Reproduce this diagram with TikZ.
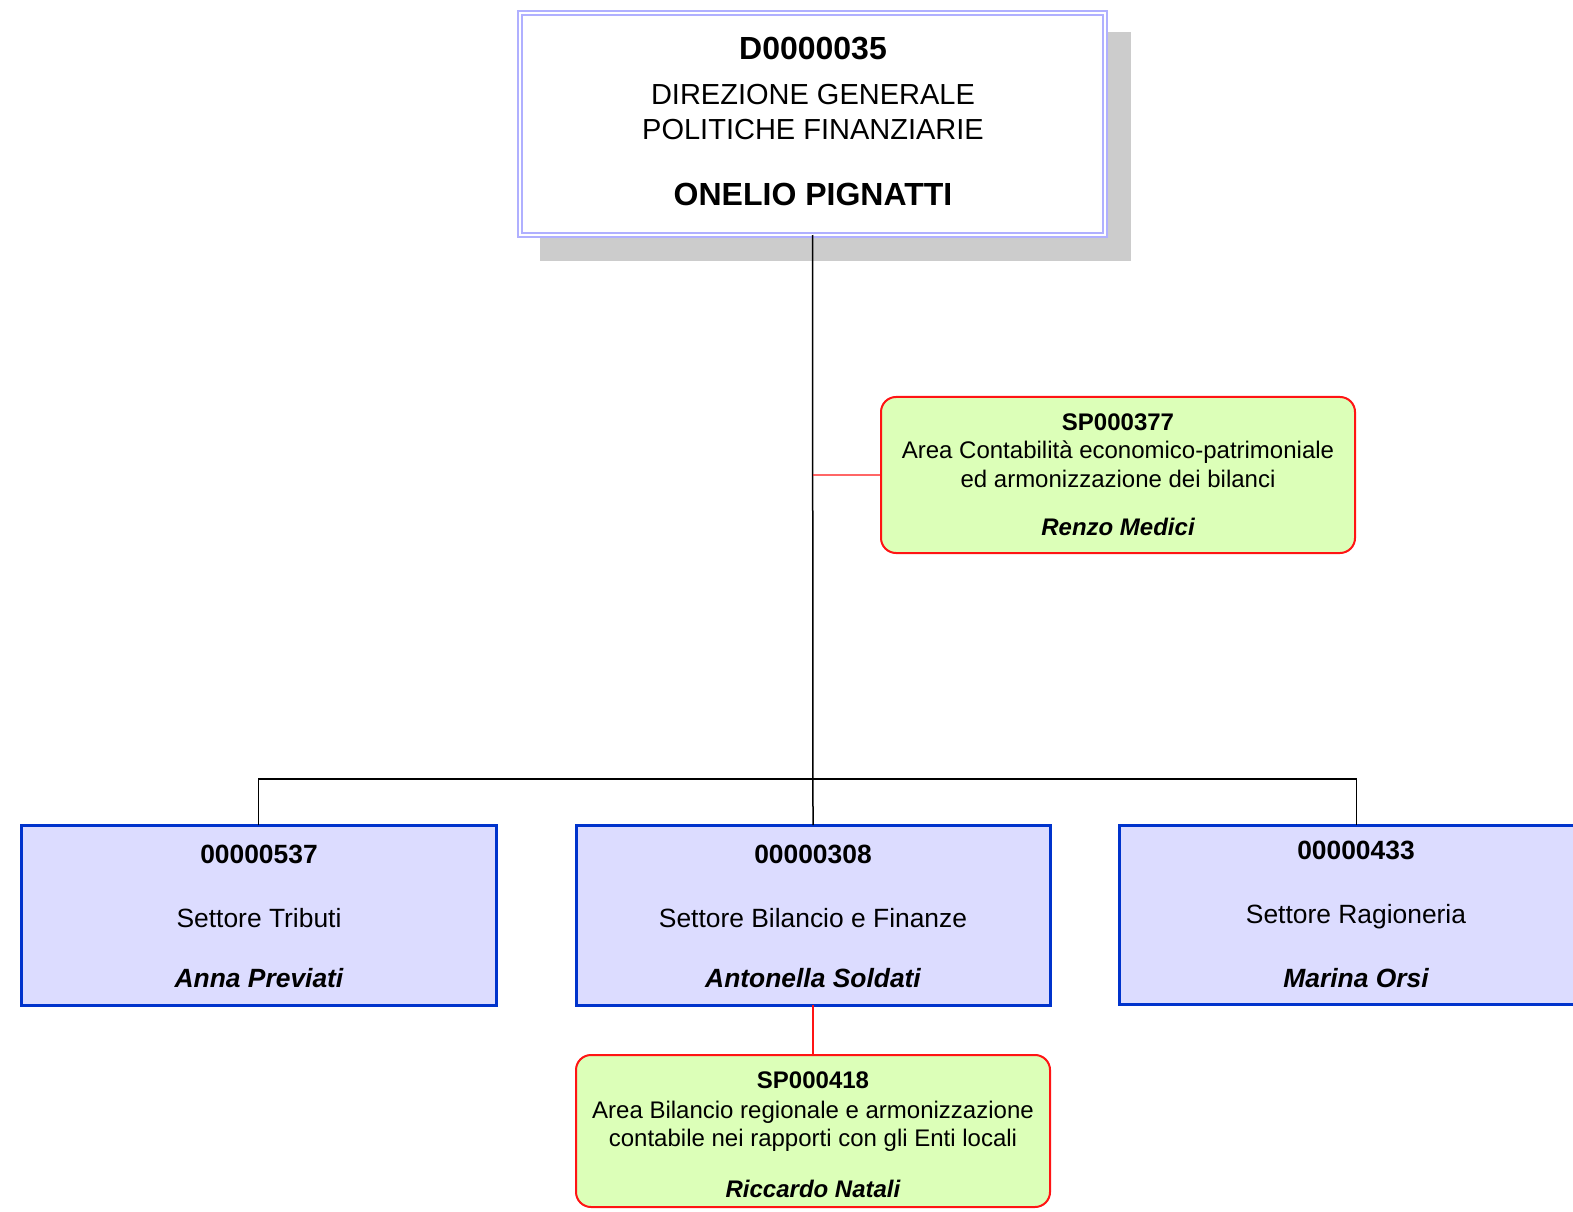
\documentclass[tikz,border=0pt]{standalone}
\usepackage{fontspec}
\setmainfont{Liberation Sans}
\definecolor{lav}{RGB}{176,176,255}
\definecolor{shadowgray}{RGB}{204,204,204}
\definecolor{bluefill}{RGB}{220,220,255}
\definecolor{blueline}{RGB}{0,51,204}
\definecolor{greenfill}{RGB}{220,255,184}
\definecolor{redline}{RGB}{255,20,20}
\tikzset{
  topbox/.style={draw=lav, double=white, double distance=1bp, line width=1bp, fill=white, inner sep=0pt, outer sep=0pt, anchor=north west, minimum width=292.5bp, minimum height=111bp},
  unitbox/.style={draw=blueline, line width=1.5bp, fill=bluefill, inner sep=0pt, outer sep=0pt, anchor=north west, minimum height=90bp},
  areabox/.style={draw=redline, line width=1bp, fill=greenfill, rounded corners=7.5bp, inner sep=0pt, outer sep=0pt, anchor=north west, minimum width=237bp},
  txt/.style={inner sep=0pt, anchor=base, align=center},
  topbold/.style={txt, font=\fontsize{16bp}{19bp}\selectfont\bfseries},
  topreg/.style={txt, font=\fontsize{14.5bp}{17bp}\selectfont},
  greenbold/.style={txt, font=\fontsize{12bp}{14bp}\selectfont\bfseries},
  greenreg/.style={txt, font=\fontsize{12bp}{14bp}\selectfont},
  greenname/.style={txt, font=\fontsize{12bp}{14bp}\selectfont\bfseries\itshape},
  unitbold/.style={txt, font=\fontsize{13.2bp}{16bp}\selectfont\bfseries},
  unitreg/.style={txt, font=\fontsize{13.2bp}{16bp}\selectfont},
  unitname/.style={txt, font=\fontsize{13.2bp}{16bp}\selectfont\bfseries\itshape},
  blackconn/.style={draw=black, line width=0.75bp},
  redconn/.style={draw=redline, line width=0.6bp}
}
\begin{document}
\begin{tikzpicture}[x=0.5bp, y=-0.5bp]
\useasboundingbox (0,0) rectangle (1573,1212);
% shadow of top box
\fill[shadowgray] (540,32) rectangle (1131,261);
\node[topbox] (top) at (520,13) {};
\node[topbold] (topcode) at (813,60) {D0000035};
\node[topreg] (topl1) at (813,104.5) {DIREZIONE GENERALE};
\node[topreg] (topl2) at (813,139.5) {POLITICHE FINANZIARIE};
\node[topbold] (topname) at (813,205.5) {ONELIO PIGNATTI};

% unit boxes
\node[unitbox, minimum width=237.5bp] (lbox) at (21,825) {};
\node[unitbox, minimum width=237bp] (cbox) at (576,825) {};
\node[unitbox, minimum width=237.5bp, minimum height=89.5bp] (rbox) at (1119,825) {};

% connectors
\coordinate (j) at (813,779);
\draw[blackconn] (top.south) -- (cbox.north);
\draw[blackconn] (lbox.north) |- (j) -| (rbox.north);

% area boxes
\node[areabox, minimum height=78bp] (g1) at (881,397) {};
\node[areabox, minimum height=76bp] (g2) at (576,1055) {};
\coordinate (g1j) at (813,475);
\draw[redconn] (g1j) -- (g1.west);
\draw[redconn] (cbox.south) -- (g2.north);

% texts in g1
\node[greenbold] (g1code) at (1118,430.5) {SP000377};
\node[greenreg] (g1l1) at (1118,458.5) {Area Contabilità economico-patrimoniale};
\node[greenreg] (g1l2) at (1118,487.5) {ed armonizzazione dei bilanci};
\node[greenname] (g1name) at (1118,535.5) {Renzo Medici};

% texts in unit boxes
\node[unitbold] (lcode) at (259,863.5) {00000537};
\node[unitreg] (ldesc) at (259,927.5) {Settore Tributi};
\node[unitname] (lname) at (259,987.5) {Anna Previati};

\node[unitbold] (ccode) at (813,863.5) {00000308};
\node[unitreg] (cdesc) at (813,927.5) {Settore Bilancio e Finanze};
\node[unitname] (cname) at (813,987.5) {Antonella Soldati};

\node[unitbold] (rcode) at (1356,859.5) {00000433};
\node[unitreg] (rdesc) at (1356,923.5) {Settore Ragioneria};
\node[unitname] (rname) at (1356,987.5) {Marina Orsi};

% texts in g2
\node[greenbold] (g2code) at (813,1088.5) {SP000418};
\node[greenreg] (g2l1) at (813,1118.5) {Area Bilancio regionale e armonizzazione};
\node[greenreg] (g2l2) at (813,1146.5) {contabile nei rapporti con gli Enti locali};
\node[greenname] (g2name) at (813,1197.5) {Riccardo Natali};
\end{tikzpicture}
\end{document}
